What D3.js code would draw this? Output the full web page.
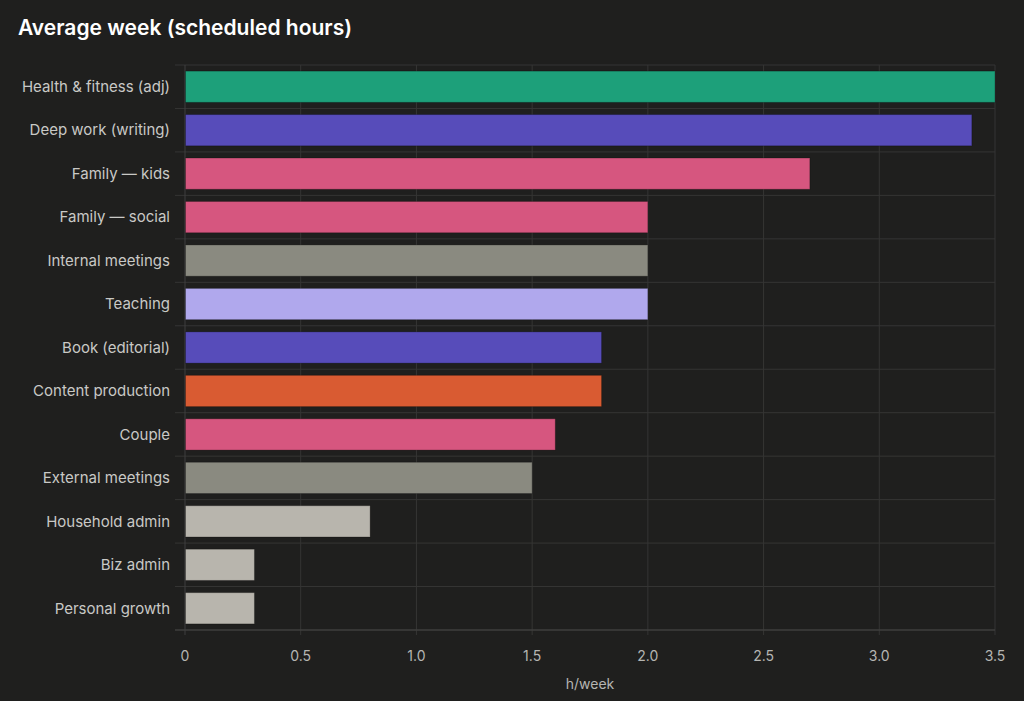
<!DOCTYPE html>
<html>
<head>
<meta charset="utf-8">
<script src="https://cdn.jsdelivr.net/npm/d3@7"></script>
<style>
  html, body { margin: 0; padding: 0; background: #1f1f1e; }
  svg { display: block; font-family: Inter, "Noto Sans", sans-serif; }
</style>
</head>
<body>
<svg id="chart" width="1024" height="701"></svg>
<script>
// Chart data
const categories = [
    'Health & fitness (adj)', 'Deep work (writing)', 'Family — kids', 'Family — social',
    'Internal meetings', 'Teaching', 'Book (editorial)', 'Content production',
    'Couple', 'External meetings', 'Household admin', 'Biz admin', 'Personal growth'
];
const hours = [3.5, 3.4, 2.7, 2.0, 2.0, 2.0, 1.8, 1.8, 1.6, 1.5, 0.8, 0.3, 0.3];
const barColors = [
    '#1da07a', '#574cba', '#d6567f', '#d6567f', '#8a8a80', '#b0a8ed', '#574cba',
    '#d95b32', '#d6567f', '#8a8a80', '#b8b5ad', '#b8b5ad', '#b8b5ad'
];
const xTicks = [0, 0.5, 1.0, 1.5, 2.0, 2.5, 3.0, 3.5];
const xTickLabels = ['0', '0.5', '1.0', '1.5', '2.0', '2.5', '3.0', '3.5'];

const svg = d3.select('#chart');
const plotLeft = 185, plotRight = 995, plotTop = 65, plotBottom = 630;

const x = d3.scaleLinear().domain([0, 3.5]).range([plotLeft, plotRight]);
const y = d3.scaleBand()
    .domain(categories)
    .range([plotTop, plotBottom])
    .paddingInner(0.28)
    .paddingOuter(0.14);
const step = y.step();

// Title
svg.append('text')
    .attr('x', 18)
    .attr('y', 35)
    .attr('fill', '#ffffff')
    .style('font-size', '21px')
    .style('font-weight', 600)
    .text('Average week (scheduled hours)');

// Horizontal grid (row boundaries)
svg.append('g')
    .selectAll('line')
    .data(categories)
    .enter()
    .append('line')
    .attr('x1', plotLeft - 10)
    .attr('x2', plotRight)
    .attr('y1', d => y(d) - step * 0.14)
    .attr('y2', d => y(d) - step * 0.14)
    .style('stroke', '#353534')
    .style('stroke-width', 1);

// Vertical grid
svg.append('g')
    .selectAll('line')
    .data(xTicks)
    .enter()
    .append('line')
    .attr('x1', d => x(d))
    .attr('x2', d => x(d))
    .attr('y1', plotTop)
    .attr('y2', plotBottom + 5)
    .style('stroke', d => d === 0 ? '#3f3f3e' : '#353534')
    .style('stroke-width', 1);

// Bars
svg.append('g')
    .selectAll('rect')
    .data(categories)
    .enter()
    .append('rect')
    .attr('x', x(0) + 0.5)
    .attr('y', d => y(d))
    .attr('width', (d, i) => x(hours[i]) - x(0) - 0.5)
    .attr('height', y.bandwidth())
    .style('fill', (d, i) => barColors[i])
    .style('stroke', 'rgba(0,0,0,0.25)')
    .style('stroke-width', 1);

// Bottom axis line
svg.append('line')
    .attr('x1', plotLeft - 10)
    .attr('x2', plotRight)
    .attr('y1', plotBottom)
    .attr('y2', plotBottom)
    .style('stroke', '#3f3f3e')
    .style('stroke-width', 1.5);

// Category labels
svg.append('g')
    .selectAll('text')
    .data(categories)
    .enter()
    .append('text')
    .attr('x', plotLeft - 15)
    .attr('y', d => y(d) + y.bandwidth() / 2)
    .attr('dy', '0.35em')
    .attr('text-anchor', 'end')
    .attr('fill', '#c9c9c6')
    .style('font-size', '15px')
    .text(d => d);

// X tick labels
svg.append('g')
    .selectAll('text')
    .data(xTicks)
    .enter()
    .append('text')
    .attr('x', d => x(d))
    .attr('y', 661)
    .attr('text-anchor', 'middle')
    .attr('fill', '#b5b5b2')
    .style('font-size', '14px')
    .text((d, i) => xTickLabels[i]);

// Axis title
svg.append('text')
    .attr('x', (plotLeft + plotRight) / 2)
    .attr('y', 689)
    .attr('text-anchor', 'middle')
    .attr('fill', '#b5b5b2')
    .style('font-size', '14px')
    .text('h/week');
</script>
</body>
</html>
